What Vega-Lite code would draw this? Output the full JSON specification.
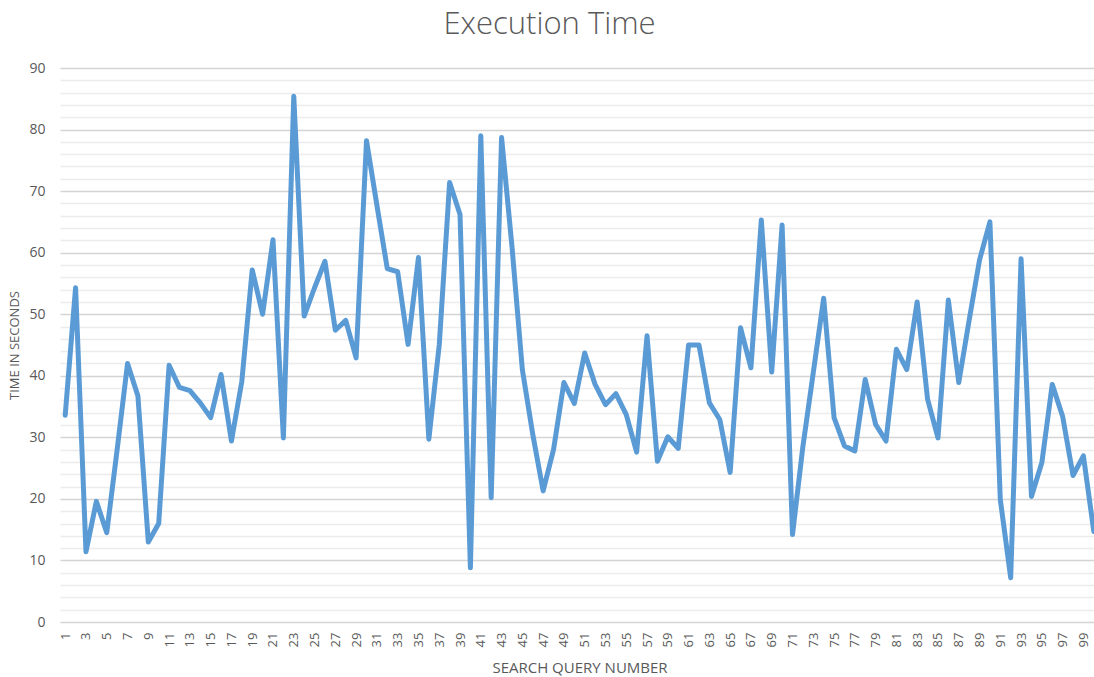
{
  "$schema": "https://vega.github.io/schema/vega-lite/v6.json",
  "autosize": {"type": "none"},
  "padding": {"left": 60, "top": 68, "right": 0, "bottom": 55},
  "width": 1039,
  "height": 554,
  "background": "white",
  "title": {
    "text": "Execution Time",
    "font": "Open Sans",
    "fontSize": 31,
    "fontWeight": 300,
    "color": "#595959",
    "anchor": "middle",
    "dx": -30,
    "offset": 20
  },
  "data": {
    "values": [
      {"q": 1, "t": 33.6}, {"q": 2, "t": 54.3}, {"q": 3, "t": 11.4}, {"q": 4, "t": 19.6}, {"q": 5, "t": 14.5},
      {"q": 6, "t": 28.0}, {"q": 7, "t": 42.0}, {"q": 8, "t": 36.7}, {"q": 9, "t": 13.0}, {"q": 10, "t": 16.0},
      {"q": 11, "t": 41.7}, {"q": 12, "t": 38.1}, {"q": 13, "t": 37.6}, {"q": 14, "t": 35.6}, {"q": 15, "t": 33.2},
      {"q": 16, "t": 40.2}, {"q": 17, "t": 29.4}, {"q": 18, "t": 39.1}, {"q": 19, "t": 57.2}, {"q": 20, "t": 50.0},
      {"q": 21, "t": 62.1}, {"q": 22, "t": 29.9}, {"q": 23, "t": 85.4}, {"q": 24, "t": 49.7}, {"q": 25, "t": 54.3},
      {"q": 26, "t": 58.6}, {"q": 27, "t": 47.4}, {"q": 28, "t": 49.0}, {"q": 29, "t": 42.9}, {"q": 30, "t": 78.2},
      {"q": 31, "t": 67.7}, {"q": 32, "t": 57.4}, {"q": 33, "t": 56.9}, {"q": 34, "t": 45.1}, {"q": 35, "t": 59.2},
      {"q": 36, "t": 29.7}, {"q": 37, "t": 45.0}, {"q": 38, "t": 71.4}, {"q": 39, "t": 66.2}, {"q": 40, "t": 8.8},
      {"q": 41, "t": 79.0}, {"q": 42, "t": 20.2}, {"q": 43, "t": 78.7}, {"q": 44, "t": 61.0}, {"q": 45, "t": 41.0},
      {"q": 46, "t": 30.5}, {"q": 47, "t": 21.3}, {"q": 48, "t": 28.0}, {"q": 49, "t": 38.9}, {"q": 50, "t": 35.5},
      {"q": 51, "t": 43.7}, {"q": 52, "t": 38.6}, {"q": 53, "t": 35.3}, {"q": 54, "t": 37.1}, {"q": 55, "t": 33.7},
      {"q": 56, "t": 27.6}, {"q": 57, "t": 46.5}, {"q": 58, "t": 26.1}, {"q": 59, "t": 30.1}, {"q": 60, "t": 28.2},
      {"q": 61, "t": 45.0}, {"q": 62, "t": 45.0}, {"q": 63, "t": 35.6}, {"q": 64, "t": 32.9}, {"q": 65, "t": 24.3},
      {"q": 66, "t": 47.8}, {"q": 67, "t": 41.3}, {"q": 68, "t": 65.3}, {"q": 69, "t": 40.6}, {"q": 70, "t": 64.5},
      {"q": 71, "t": 14.2}, {"q": 72, "t": 28.5}, {"q": 73, "t": 40.5}, {"q": 74, "t": 52.6}, {"q": 75, "t": 33.2},
      {"q": 76, "t": 28.6}, {"q": 77, "t": 27.8}, {"q": 78, "t": 39.4}, {"q": 79, "t": 32.1}, {"q": 80, "t": 29.4},
      {"q": 81, "t": 44.3}, {"q": 82, "t": 41.0}, {"q": 83, "t": 52.0}, {"q": 84, "t": 36.2}, {"q": 85, "t": 29.9},
      {"q": 86, "t": 52.3}, {"q": 87, "t": 38.9}, {"q": 88, "t": 49.0}, {"q": 89, "t": 58.8}, {"q": 90, "t": 65.0},
      {"q": 91, "t": 19.9}, {"q": 92, "t": 7.2}, {"q": 93, "t": 59.0}, {"q": 94, "t": 20.4}, {"q": 95, "t": 25.9},
      {"q": 96, "t": 38.6}, {"q": 97, "t": 33.4}, {"q": 98, "t": 23.8}, {"q": 99, "t": 27.0}, {"q": 100, "t": 14.7}
    ]
  },
  "mark": {"type": "line", "color": "#5b9bd5", "strokeWidth": 5, "strokeJoin": "round", "strokeCap": "round"},
  "encoding": {
    "x": {
      "field": "q",
      "type": "ordinal",
      "sort": "ascending",
      "scale": {"type": "point", "padding": 0.5},
      "axis": {
        "title": "SEARCH QUERY NUMBER",
        "titleFont": "Open Sans",
        "titleFontSize": 15,
        "titleFontWeight": "normal",
        "titleColor": "#595959",
        "titleY": 45,
        "titleBaseline": "middle",
        "labelAngle": 270,
        "labelFont": "Open Sans",
        "labelFontSize": 13,
        "labelColor": "#595959",
        "labelPadding": 10,
        "labelExpr": "datum.value % 2 === 1 ? datum.label : ''",
        "labelOverlap": false,
        "ticks": false,
        "domain": false,
        "grid": false
      }
    },
    "y": {
      "field": "t",
      "type": "quantitative",
      "scale": {"domain": [0, 90], "nice": false},
      "axis": {
        "title": "TIME IN SECONDS",
        "titleFont": "Open Sans",
        "titleFontSize": 13,
        "titleFontWeight": "normal",
        "titleColor": "#595959",
        "titleX": -46,
        "titleBaseline": "middle",
        "values": [0,2,4,6,8,10,12,14,16,18,20,22,24,26,28,30,32,34,36,38,40,42,44,46,48,50,52,54,56,58,60,62,64,66,68,70,72,74,76,78,80,82,84,86,88,90],
        "labelExpr": "datum.value % 10 === 0 ? datum.label : ''",
        "labelFont": "Open Sans",
        "labelFontSize": 14,
        "labelColor": "#595959",
        "labelPadding": 15,
        "ticks": false,
        "domain": false,
        "grid": true,
        "gridWidth": 1.5,
        "gridColor": {"condition": {"test": "datum.value % 10 === 0", "value": "#d4d4d4"}, "value": "#ececec"}
      }
    }
  },
  "config": {"view": {"stroke": null}}
}
